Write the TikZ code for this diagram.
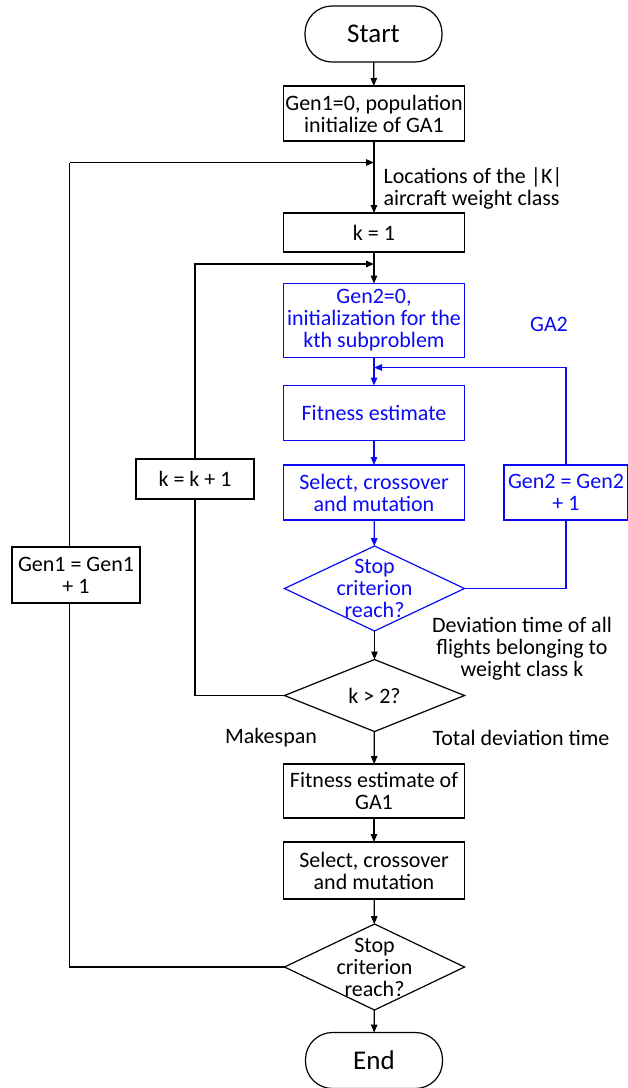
\documentclass[tikz,border=0pt]{standalone}
\usepackage{fontspec}
\setmainfont{Carlito}
\usetikzlibrary{shapes.geometric,arrows.meta}
\definecolor{gablue}{RGB}{10,10,245}

\begin{document}
\begin{tikzpicture}[
x=1pt,
y=-1pt,
font=\fontsize{22}{22}\selectfont,
procbox/.style={rectangle, draw, line width=1.2pt, align=center, inner sep=1pt, outer sep=0pt},
bluebox/.style={procbox, draw=gablue, text=gablue},
decision/.style={diamond, draw, line width=1.2pt, inner sep=0pt, outer sep=0pt, minimum width=180pt},
terminal/.style={rectangle, rounded corners=27pt, draw, line width=1.2pt, minimum width=137pt, minimum height=56pt, outer sep=0pt, font=\fontsize{27}{30}\selectfont},
flow/.style={line width=1.2pt, -{Triangle[length=8pt,width=6.5pt]}},
line/.style={line width=1.2pt},
]
\useasboundingbox (0,0) rectangle (628,1088);
\node[terminal] (start) at (373.5,34) {Start};
\node[procbox, minimum width=181pt, minimum height=55pt] (init) at (374,113.5) {Gen1=0, population\\initialize of GA1};
\node[procbox, minimum width=181pt, minimum height=39pt] (k1) at (374,232.5) {k = 1};
\node[bluebox, minimum width=181pt, minimum height=74pt] (gen2init) at (374,320.5) {Gen2=0,\\initialization for the\\kth subproblem};
\node[bluebox, minimum width=181pt, minimum height=55pt] (fit2) at (374,413) {Fitness estimate};
\node[bluebox, minimum width=181pt, minimum height=55pt] (sel2) at (374,492.5) {Select, crossover\\and mutation};
\node[bluebox, minimum width=124pt, minimum height=55pt] (gen2inc) at (566,492.5) {Gen2 = Gen2\\+ 1};
\node[decision, draw=gablue, minimum height=85pt] (stop2) at (374.5,588.5) {};
\node[text=gablue, align=center] (stop2txt) at (stop2) {Stop\\criterion\\reach?};
\node[decision, minimum height=72pt] (kcheck) at (374.5,695.5) {};
\node (kchecktxt) at (kcheck) {k > 2?};
\node[procbox, minimum width=118pt, minimum height=40pt] (kinc) at (195,479) {k = k + 1};
\node[procbox, minimum width=128pt, minimum height=56pt] (gen1inc) at (76,575) {Gen1 = Gen1\\+ 1};
\node[procbox, minimum width=181pt, minimum height=54pt] (fit1) at (374,791) {Fitness estimate of\\GA1};
\node[procbox, minimum width=181pt, minimum height=57pt] (sel1) at (374,870.5) {Select, crossover\\and mutation};
\node[decision, minimum height=86pt] (stop1) at (374.5,967) {};
\node[align=center] (stop1txt) at (stop1) {Stop\\criterion\\reach?};
\node[terminal] (end) at (374,1060.5) {End};
\node[align=left, anchor=west] (locs) at (380,188) {Locations of the |K|\\aircraft weight class};
\node[text=gablue] (ga2) at (549,324) {GA2};
\node[align=center] (devtime) at (522,649) {Deviation time of all\\flights belonging to\\weight class k};
\node (makespan) at (271,738) {Makespan};
\node (totdev) at (521,738) {Total deviation time};
\coordinate (join1) at (374,162.5);
\coordinate (join2) at (374,264);
\coordinate (join3) at (374,367.5);
\coordinate (loop1) at (69.5,162.5);
\draw[flow] (start) -- (init);
\draw[flow] (init) -- (k1);
\draw[flow] (k1) -- (gen2init);
\draw[flow, gablue] (gen2init) -- (fit2);
\draw[flow, gablue] (fit2) -- (sel2);
\draw[flow, gablue] (sel2) -- (stop2);
\draw[line, gablue] (stop2.east) -| (gen2inc.south);
\draw[flow, gablue] (gen2inc.north) |- (join3);
\draw[flow] (stop2) -- (kcheck);
\draw[line] (kcheck.west) -| (kinc.south);
\draw[flow] (kinc.north) |- (join2);
\draw[flow] (kcheck) -- (fit1);
\draw[flow] (fit1) -- (sel1);
\draw[flow] (sel1) -- (stop1);
\draw[flow] (stop1) -- (end);
\draw[line] (stop1.west) -| (gen1inc.south -| loop1);
\draw[line] (gen1inc.north -| loop1) -- (loop1);
\draw[flow] (loop1) -- (join1);
\end{tikzpicture}
\end{document}
